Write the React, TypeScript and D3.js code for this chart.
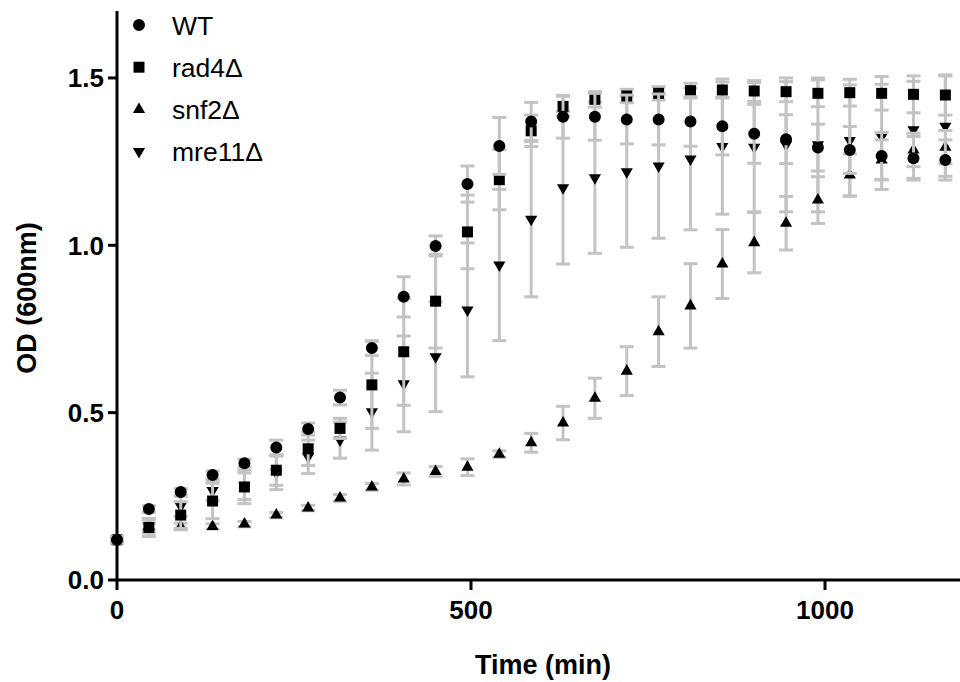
import React from "react";
import * as d3 from "d3";

const times = [0, 45, 90, 135, 180, 225, 270, 315, 360, 405, 450, 495, 540, 585, 630, 675, 720, 765, 810, 855, 900, 945, 990, 1035, 1080, 1125, 1170];

const wtMean = [0.12, 0.212, 0.263, 0.314, 0.349, 0.396, 0.451, 0.545, 0.693, 0.846, 0.998, 1.183, 1.297, 1.370, 1.384, 1.384, 1.376, 1.376, 1.370, 1.356, 1.333, 1.317, 1.292, 1.285, 1.267, 1.260, 1.255];
const wtSd = [0.01, 0.01, 0.01, 0.012, 0.012, 0.022, 0.018, 0.022, 0.022, 0.06, 0.03, 0.054, 0.085, 0.057, 0.064, 0.07, 0.073, 0.076, 0.074, 0.086, 0.088, 0.073, 0.07, 0.07, 0.07, 0.065, 0.06];

const rad4Mean = [0.12, 0.157, 0.194, 0.236, 0.278, 0.328, 0.392, 0.453, 0.583, 0.682, 0.833, 1.040, 1.196, 1.342, 1.415, 1.436, 1.446, 1.454, 1.462, 1.464, 1.461, 1.459, 1.454, 1.456, 1.454, 1.451, 1.449];
const rad4Sd = [0.01, 0.027, 0.04, 0.053, 0.05, 0.045, 0.05, 0.03, 0.13, 0.16, 0.14, 0.11, 0.09, 0.047, 0.03, 0.023, 0.02, 0.02, 0.022, 0.024, 0.031, 0.03, 0.04, 0.04, 0.05, 0.055, 0.06];

const snf2Mean = [0.12, 0.16, 0.16, 0.16, 0.167, 0.194, 0.215, 0.245, 0.278, 0.302, 0.324, 0.337, 0.376, 0.410, 0.469, 0.543, 0.624, 0.742, 0.819, 0.944, 1.008, 1.066, 1.135, 1.210, 1.255, 1.285, 1.293];
const snf2Sd = [0.005, 0.01, 0.01, 0.008, 0.008, 0.008, 0.008, 0.01, 0.01, 0.018, 0.015, 0.025, 0.01, 0.028, 0.05, 0.06, 0.073, 0.104, 0.126, 0.103, 0.09, 0.08, 0.07, 0.063, 0.06, 0.05, 0.05];

const mre11Mean = [0.12, 0.16, 0.22, 0.267, 0.28, 0.32, 0.368, 0.418, 0.503, 0.586, 0.667, 0.807, 0.941, 1.078, 1.172, 1.202, 1.220, 1.237, 1.258, 1.295, 1.293, 1.30, 1.30, 1.313, 1.324, 1.345, 1.356];
const mre11Sd = [0.01, 0.02, 0.03, 0.03, 0.04, 0.05, 0.05, 0.054, 0.115, 0.143, 0.164, 0.20, 0.226, 0.232, 0.228, 0.226, 0.226, 0.216, 0.212, 0.202, 0.193, 0.2, 0.2, 0.166, 0.157, 0.145, 0.15];

const seriesNames = ["WT", "rad4Δ", "snf2Δ", "mre11Δ"];
const xTicks = [0, 500, 1000];
const yTicks = [0.0, 0.5, 1.0, 1.5];

const W = 960;
const H = 682;

const symbolFor = (k: number) => {
  if (k === 0) return d3.symbol(d3.symbolCircle, 113)();
  if (k === 1) return d3.symbol(d3.symbolSquare, 121)();
  return d3.symbol(d3.symbolTriangle, 64)();
};

export default function App() {
  const x = d3.scaleLinear().domain([0, 1200]).range([117, 966.6]);
  const y = d3.scaleLinear().domain([0, 1.7]).range([580, 11]);
  const means = [wtMean, rad4Mean, snf2Mean, mre11Mean];
  const sds = [wtSd, rad4Sd, snf2Sd, mre11Sd];
  const drawOrder = [3, 2, 1, 0];
  const font = "'Liberation Sans', Arial, Helvetica, sans-serif";
  const capW = 7;

  return (
    <svg width={W} height={H} style={{ position: "absolute", left: 0, top: 0, background: "#fff" }}>
      <rect x={0} y={0} width={W} height={H} fill="#fff" />
      {/* axes */}
      <g stroke="#000" strokeWidth={3}>
        <line x1={117} x2={117} y1={y(1.7)} y2={y(0) + 1.5} />
        <line x1={117 - 1.5} x2={W + 10} y1={y(0)} y2={y(0)} />
        {yTicks.map((v) => (
          <line key={v} x1={108} x2={117} y1={y(v)} y2={y(v)} />
        ))}
        {xTicks.map((v) => (
          <line key={v} x1={x(v)} x2={x(v)} y1={y(0)} y2={y(0) + 10} />
        ))}
      </g>
      {drawOrder.map((k) => (
        <g key={k}>
          {times.map((t, i) => {
            const cx = x(t);
            const yt = y(means[k][i] + sds[k][i]);
            const yb = y(means[k][i] - sds[k][i]);
            return (
              <g key={i} stroke="#c3c3c3" strokeWidth={3}>
                <line x1={cx} x2={cx} y1={yt} y2={yb} />
                <line x1={cx - capW} x2={cx + capW} y1={yt} y2={yt} />
                <line x1={cx - capW} x2={cx + capW} y1={yb} y2={yb} />
              </g>
            );
          })}
          {times.map((t, i) => (
            <path
              key={"m" + i}
              d={symbolFor(k) as string}
              transform={`translate(${x(t)},${y(means[k][i])})${k === 3 ? " rotate(180)" : ""}`}
              fill="#000"
            />
          ))}
        </g>
      ))}
      {yTicks.map((v) => (
        <text key={v} x={104} y={y(v)} dy="0.36em" textAnchor="end" fontFamily={font} fontWeight="bold" fontSize={26} fill="#000">
          {d3.format(".1f")(v)}
        </text>
      ))}
      {xTicks.map((v) => (
        <text key={v} x={x(v)} y={610} dy="0.36em" textAnchor="middle" fontFamily={font} fontWeight="bold" fontSize={26} fill="#000">
          {v}
        </text>
      ))}
      <text x={543} y={674} textAnchor="middle" fontFamily={font} fontWeight="bold" fontSize={27} fill="#000">
        Time (min)
      </text>
      <text transform={`translate(36,298) rotate(-90)`} textAnchor="middle" fontFamily={font} fontWeight="bold" fontSize={27} fill="#000">
        OD (600nm)
      </text>
      {/* legend */}
      {seriesNames.map((name, k) => (
        <g key={name} transform={`translate(0,${25 + k * 42.2})`}>
          <path d={symbolFor(k) as string} transform={`translate(139,0)${k === 3 ? " rotate(180)" : ""}`} fill="#000" />
          <text x={172} y={0} dy="0.36em" fontFamily={font} fontSize={26.5} fill="#000">
            {name}
          </text>
        </g>
      ))}
    </svg>
  );
}
